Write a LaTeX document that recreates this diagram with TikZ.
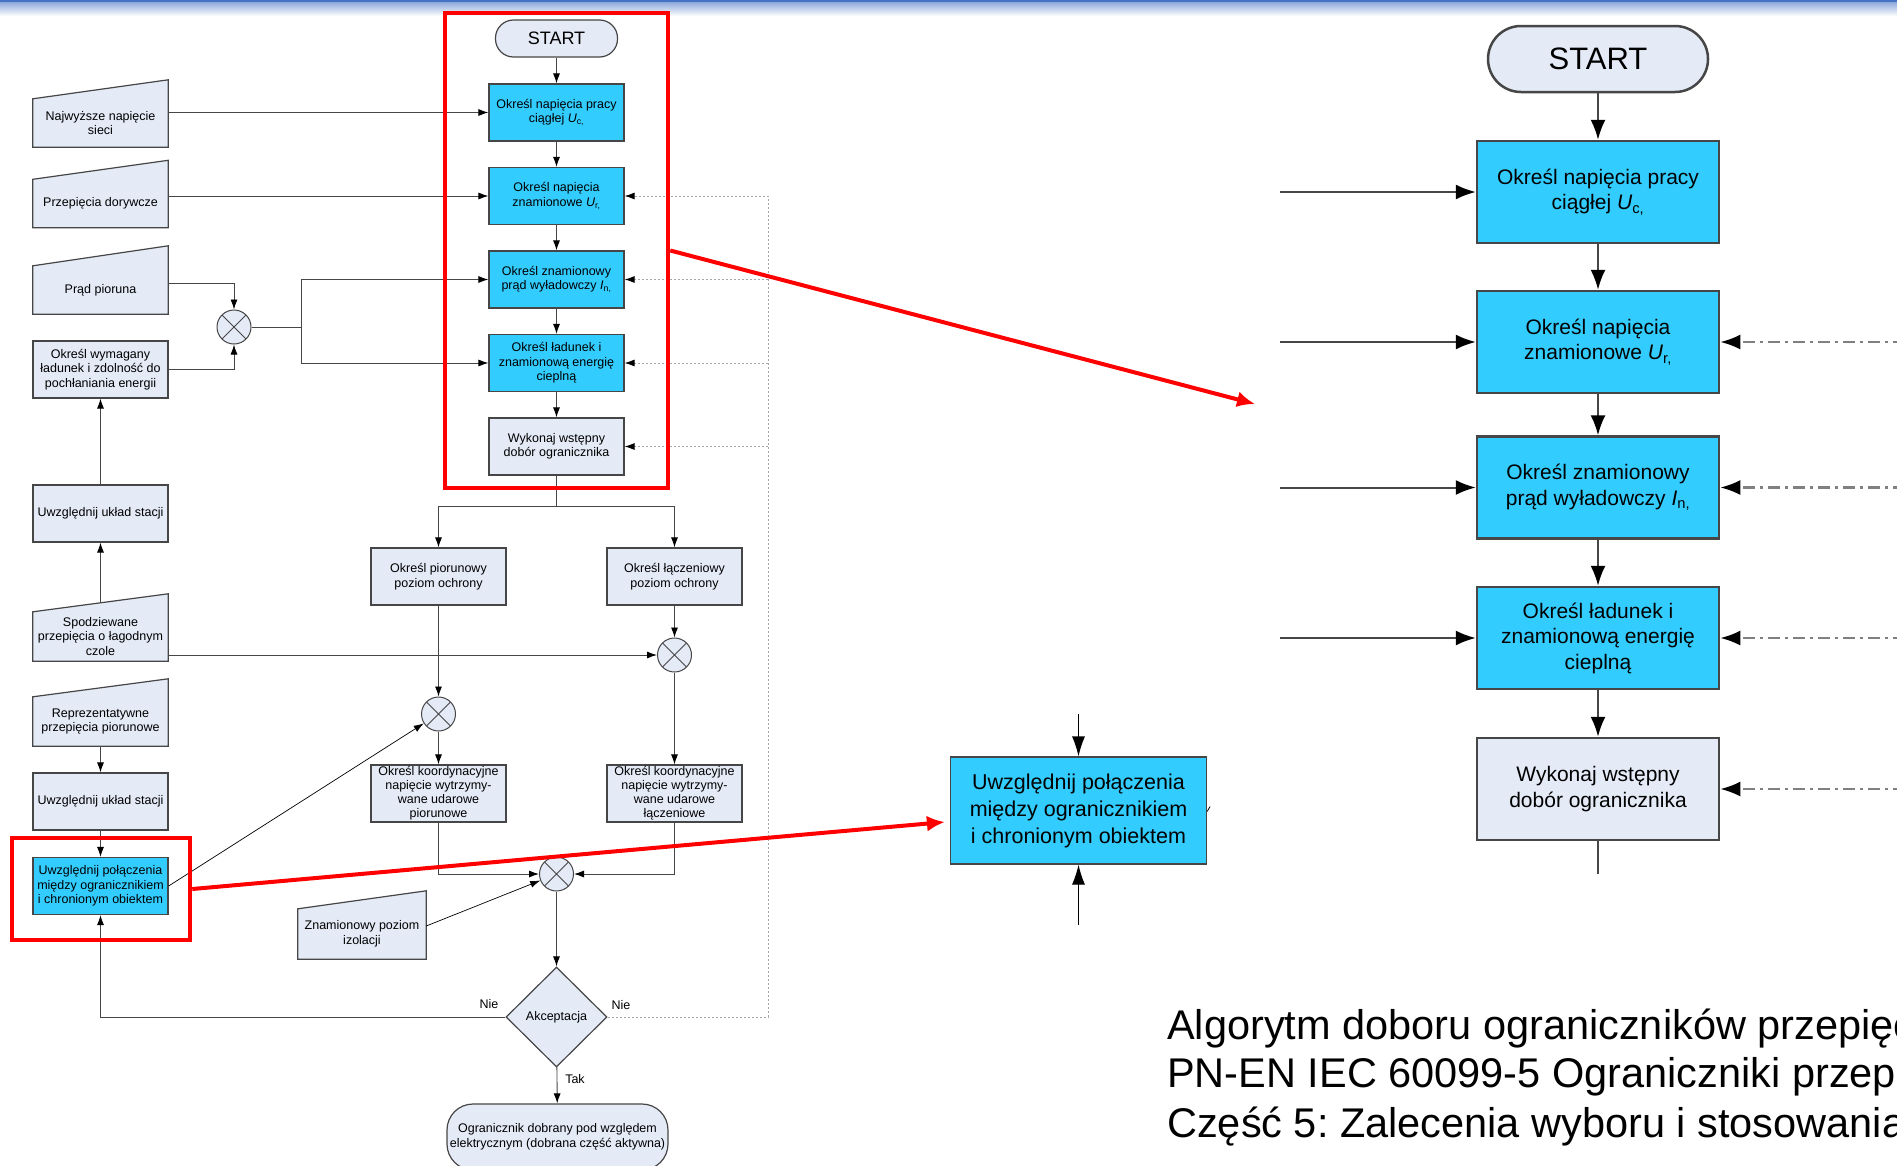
\documentclass[tikz,border=0pt]{standalone}
\usepackage{fontspec}
\setmainfont{Liberation Sans}
\usetikzlibrary{shapes.geometric,arrows.meta,backgrounds}
\definecolor{procblue}{RGB}{51,204,255}
\definecolor{lightbox}{RGB}{228,235,247}
\definecolor{edgegray}{RGB}{70,70,70}
\definecolor{barblue}{RGB}{68,114,196}
\newcommand{\smalltxt}{\fontsize{12.5}{14.5}\selectfont}
\newcommand{\bigtxt}{\fontsize{21}{25.5}\selectfont}
\frenchspacing

\begin{document}
\begin{tikzpicture}[x=1pt,y=-1pt]
        \tikzstyle{every node}=[inner sep=1pt, align=center]
        \tikzstyle{proc}=[draw=edgegray, line width=1.2pt, fill=procblue, minimum width=135pt, minimum height=57pt, font=\smalltxt]
        \tikzstyle{plain}=[proc, fill=lightbox]
        \tikzstyle{minput}=[minimum width=135pt, minimum height=48pt, font=\smalltxt]
        \tikzstyle{term}=[draw=edgegray, line width=1.2pt, fill=lightbox, rounded corners=18pt, minimum width=122pt, minimum height=37pt, font=\fontsize{18}{20}\selectfont]
        \tikzstyle{sumc}=[circle, draw=edgegray, line width=1pt, fill=lightbox, minimum size=34pt, inner sep=0pt, path picture={\draw[edgegray, line width=1pt] (path picture bounding box.north west) -- (path picture bounding box.south east) (path picture bounding box.north east) -- (path picture bounding box.south west);}]
        \tikzstyle{arr}=[edgegray, line width=0.9pt, -{Latex[length=10pt,width=7pt,color=black]}]
        \tikzstyle{fb}=[arr, gray!70, dash pattern=on 2pt off 2pt]
        \tikzstyle{rproc}=[draw=edgegray, line width=2.5pt, fill=procblue, minimum width=242pt, minimum height=102pt, font=\bigtxt]
        \tikzstyle{rarr}=[edgegray, line width=2pt, -{Latex[length=20pt,width=15pt,color=black]}]
        \tikzstyle{rfb}=[rarr, gray, line width=2.5pt, dash pattern=on 12pt off 5pt on 3pt off 5pt]
        \tikzstyle{redarr}=[red, line width=4pt, -{Latex[length=18pt,width=16pt]}]
        \tikzstyle{redbox}=[draw=red, line width=4.5pt]

        \useasboundingbox (0,0) rectangle (1897,1165);

        \node[term] (start) at (556.5,38.5) {START};
        \node[proc] (ucont) at (556.5,112.5) {Określ napięcia pracy\\ciągłej \textit{U}\textsubscript{c,}};
        \node[proc] (urated) at (556.5,196) {Określ napięcia\\znamionowe \textit{U}\textsubscript{r,}};
        \node[proc] (idis) at (556.5,279.5) {Określ znamionowy\\prąd wyładowczy \textit{I}\textsubscript{n,}};
        \node[proc] (qenergy) at (556.5,363) {Określ ładunek i\\znamionową energię\\cieplną};
        \node[plain] (presel) at (556.5,446.5) {Wykonaj wstępny\\dobór ogranicznika};

        \node[minput] (najw) at (100.5,123) {Najwyższe napięcie\\sieci};
        \node[minput] (dor) at (100.5,203.5) {Przepięcia dorywcze};
        \node[minput] (piorunin) at (100.5,290) {Prąd pioruna};
        \node[plain] (wymag) at (100.5,369.5) {Określ wymagany\\ładunek i zdolność do\\pochłaniania energii};
        \node[plain] (uklad1) at (100.5,513.5) {Uwzględnij układ stacji};
        \node[minput, minimum height=49pt] (spodz) at (100.5,636.5) {Spodziewane\\przepięcia o łagodnym\\czole};
        \node[minput, minimum height=49pt] (repr) at (100.5,721.5) {Reprezentatywne\\przepięcia piorunowe};
        \node[plain] (uklad2) at (100.5,801.5) {Uwzględnij układ stacji};
        \node[proc] (polacz) at (100.5,886) {Uwzględnij połączenia\\między ogranicznikiem\\i chronionym obiektem};

        \node[plain] (pior) at (438.5,576.5) {Określ piorunowy\\poziom ochrony};
        \node[plain] (lacz) at (674.5,576.5) {Określ łączeniowy\\poziom ochrony};
        \node[plain, inner sep=0pt, font=\fontsize{12.5}{14}\selectfont] (koordp) at (438.5,793.5) {Określ koordynacyjne\\napięcie wytrzymy-\\wane udarowe\\piorunowe};
        \node[plain, inner sep=0pt, font=\fontsize{12.5}{14}\selectfont] (koordl) at (674.5,793.5) {Określ koordynacyjne\\napięcie wytrzymy-\\wane udarowe\\łączeniowe};
        \node[minput, minimum width=128pt, minimum height=50pt] (izol) at (362,934) {Znamionowy poziom\\izolacji};

        \node[sumc] (sumA) at (234,327) {};
        \node[sumc] (sumL) at (674.5,655) {};
        \node[sumc] (sumP) at (438.5,714) {};
        \node[sumc] (sumK) at (556.5,874) {};

        \node[diamond, draw=edgegray, line width=1.2pt, fill=lightbox, minimum width=101pt, minimum height=100pt, inner sep=0pt, font=\smalltxt] (accept) at (556.5,1017) {Akceptacja};
        \node[term, rounded corners=26pt, minimum width=221pt, minimum height=66pt, font=\smalltxt] (stop) at (557.5,1137) {Ogranicznik dobrany pod względem\\elektrycznym (dobrana część aktywna)};
        \node[font=\smalltxt] (nie1) at (489,1004) {Nie};
        \node[font=\smalltxt] (nie2) at (621,1005) {Nie};
        \node[font=\smalltxt] (tak) at (575,1079) {Tak};

        \begin{scope}[on background layer]
        \fill[white] (0,0) rectangle (1897,1165);
        \shade[top color=barblue!70, bottom color=white] (0,0) rectangle (1897,16);
        \fill[barblue] (0,0) rectangle (1897,1.5);
        \foreach \n/\h in {najw/19,dor/19,piorunin/20,spodz/18,repr/18,izol/18}
            \draw[edgegray, line width=1.2pt, fill=lightbox] (\n.south west) -- (\n.south east) -- ([yshift=\h pt]\n.north east) -- (\n.north west) -- cycle;
        \end{scope}

        \foreach \a/\b in {start/ucont,ucont/urated,urated/idis,idis/qenergy,qenergy/presel}
            \draw[arr] (\a) -- (\b);
        \draw[arr] (najw.east |- ucont.west) -- (ucont.west);
        \draw[arr] (dor.east |- urated.west) -- (urated.west);
        \draw[arr] ([yshift=7pt]piorunin.east) -| (sumA.north);
        \draw[arr] (wymag.east) -| (sumA.south);
        \draw[arr] (sumA.east) -- ++(50,0) |- (idis.west);
        \draw[arr] (sumA.east) -- ++(50,0) |- (qenergy.west);
        \draw[arr] (uklad1) -- (wymag);
        \draw[arr] ([yshift=9pt]spodz.north) -- (uklad1.south);
        \draw[arr] (spodz.east |- sumL.west) -- (sumL.west);
        \draw[arr] (repr) -- (uklad2);
        \draw[arr] (uklad2) -- (polacz);
        \draw[arr] (presel.south) -- ++(0,31) -| (pior.north);
        \draw[arr] (presel.south) -- ++(0,31) -| (lacz.north);
        \draw[arr] (pior) -- (sumP);
        \draw[arr] (sumP) -- (koordp);
        \draw[arr] (lacz) -- (sumL);
        \draw[arr] (sumL) -- (koordl);
        \draw[arr, black, line width=0.7pt] (polacz.east) -- (sumP);
        \draw[arr] (koordp.south) |- (sumK.west);
        \draw[arr] (koordl.south) |- (sumK.east);
        \draw[arr, black, line width=0.7pt] ([yshift=8pt]izol.east) -- (sumK);
        \draw[arr] (sumK) -- (accept);
        \draw[arr] (accept) -- (stop);
        \draw[arr] (accept.west) -| (polacz.south);

        \coordinate (fbx) at (768,0);
        \draw[fb] (accept.east) -| (fbx |- urated.east) -- (urated.east);
        \foreach \b in {idis,qenergy,presel}
            \draw[fb] (fbx |- \b.east) -- (\b.east);

        \node[rproc, fill=lightbox, rounded corners=33pt, minimum width=220pt, minimum height=66pt, font=\fontsize{31}{33}\selectfont] (rstart) at (1598,59) {START};
        \node[rproc] (r1) at (1598,192) {Określ napięcia pracy\\ciągłej \textit{U}\textsubscript{c,}};
        \node[rproc] (r2) at (1598,342) {Określ napięcia\\znamionowe \textit{U}\textsubscript{r,}};
        \node[rproc] (r3) at (1598,487.5) {Określ znamionowy\\prąd wyładowczy \textit{I}\textsubscript{n,}};
        \node[rproc] (r4) at (1598,638) {Określ ładunek i\\znamionową energię\\cieplną};
        \node[rproc, fill=lightbox] (r5) at (1598,789) {Wykonaj wstępny\\dobór ogranicznika};
        \foreach \a/\b in {rstart/r1,r1/r2,r2/r3,r3/r4,r4/r5}
            \draw[rarr] (\a) -- (\b);
        \draw[edgegray, line width=2pt] (r5.south) -- ++(0,33);
        \coordinate (rin) at (1280,0);
        \coordinate (rfbx) at (1905,0);
        \foreach \b in {r1,r2,r3,r4}
            \draw[rarr] (rin |- \b.west) -- (\b.west);
        \foreach \b in {r2,r3,r4,r5}
            \draw[rfb] (rfbx |- \b.east) -- (\b.east);

        \node[draw=edgegray, line width=1.2pt, fill=procblue, minimum width=256pt, minimum height=107pt, font=\fontsize{21.5}{27}\selectfont] (zbox) at (1078.5,810.5) {Uwzględnij połączenia\\między ogranicznikiem\\i chronionym obiektem};
        \draw[black, line width=1.2pt, -{Latex[length=20pt,width=13pt]}] ([yshift=42pt]zbox.north) -- (zbox.north);
        \draw[black, line width=1.2pt, -{Latex[length=20pt,width=13pt]}] ([yshift=-60pt]zbox.south) -- (zbox.south);
        \draw[black, line width=0.8pt] ([yshift=-1pt]zbox.east) -- ++(3,-5);

        \node[anchor=base west, inner sep=0pt, font=\fontsize{41.5}{48}\selectfont] (cap1) at (1167,1039) {Algorytm doboru ograniczników przepięć};
        \node[anchor=base west, inner sep=0pt, font=\fontsize{41.5}{48}\selectfont] (cap2) at (1167,1087) {PN-EN IEC 60099-5 Ograniczniki przepięć};
        \node[anchor=base west, inner sep=0pt, font=\fontsize{41.5}{48}\selectfont] (cap3) at (1167,1137) {Część 5: Zalecenia wyboru i stosowania};

        \node[redbox, minimum width=223pt, minimum height=475pt] (hl1) at (556.5,250.5) {};
        \node[redbox, minimum width=178pt, minimum height=102pt] (hl2) at (101,889) {};
        \coordinate (tip1) at (1255,404);
        \draw[redarr] (hl1.east) -- (tip1);
        \draw[redarr] (hl2.east) -- ([xshift=-5pt,yshift=-11.5pt]zbox.west);
    \end{tikzpicture}
\end{document}
